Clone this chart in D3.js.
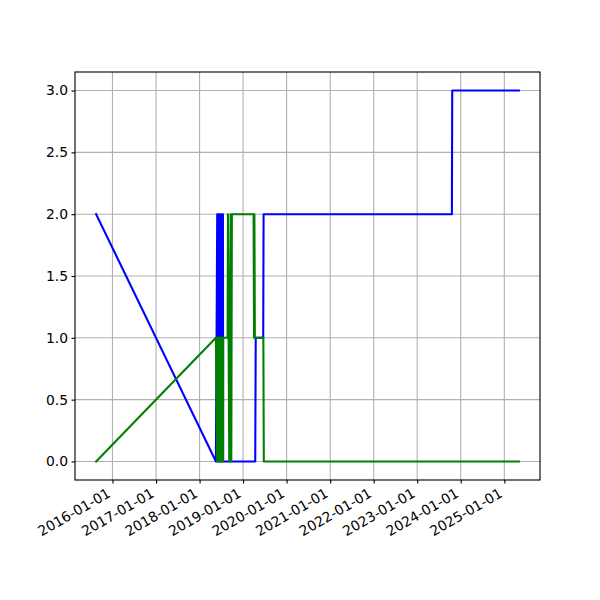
<!DOCTYPE html>
<html>
<head>
<meta charset="utf-8">
<script src="https://cdn.jsdelivr.net/npm/d3@7"></script>
<style>
  body { margin: 0; background: #fff; }
  svg { display: block; }
  text { font-family: "DejaVu Sans", sans-serif; }
</style>
</head>
<body>
<svg id="chart" width="600" height="600"></svg>
<script>
// ---- data ----
const blueDates = [
  "2015-08-17", "2018-05-18",
  "2018-05-29", "2018-06-02", "2018-06-06", "2018-06-10", "2018-06-14", "2018-06-18",
  "2018-06-22", "2018-06-26", "2018-06-30", "2018-07-04", "2018-07-08", "2018-07-12",
  "2018-07-16", "2018-07-18",
  "2019-04-13", "2019-04-17", "2019-06-19", "2019-06-22",
  "2023-10-19", "2023-10-22", "2025-05-03"
];
const blueValues = [
  2, 0,
  2, 0, 2, 0, 2, 0,
  2, 0, 2, 0, 2, 0,
  2, 0,
  0, 1, 1, 2,
  2, 3, 3
];
const greenDates = [
  "2015-08-17", "2018-05-18",
  "2018-05-29", "2018-06-02", "2018-06-06", "2018-06-10", "2018-06-14", "2018-06-18",
  "2018-06-22", "2018-06-26", "2018-06-30", "2018-07-04", "2018-07-08", "2018-07-12",
  "2018-07-16", "2018-07-18",
  "2018-08-24", "2018-08-27", "2018-09-07", "2018-09-19", "2018-09-24", "2018-09-29",
  "2019-03-30", "2019-04-03", "2019-04-06", "2019-04-10",
  "2019-06-20", "2019-06-24", "2025-05-03"
];
const greenValues = [
  0, 1,
  0, 1, 0, 1, 0, 1,
  0, 1, 0, 1, 0, 1,
  0, 1,
  1, 2, 0, 2, 0, 2,
  2, 1, 2, 1,
  1, 0, 0
];
const yTicks = [0, 0.5, 1, 1.5, 2, 2.5, 3];
const xTickYears = [2016, 2017, 2018, 2019, 2020, 2021, 2022, 2023, 2024, 2025];

// ---- layout ----
const W = 600, H = 600;
const mLeft = 75, mRight = 540, mTop = 72, mBottom = 480;
const fontSize = 13.9;
const tickLen = 3.5, tickPad = 3.5;
const thin = 1.11, lw = 2.08;

const parse = d3.utcParse("%Y-%m-%d");
const blue = blueDates.map((d, i) => ({ t: parse(d), v: blueValues[i] }));
const green = greenDates.map((d, i) => ({ t: parse(d), v: greenValues[i] }));

const all = blue.concat(green);
const tExt = d3.extent(all, d => +d.t);
const tPad = (tExt[1] - tExt[0]) * 0.05;
const vExt = d3.extent(all, d => d.v);
const vPad = (vExt[1] - vExt[0]) * 0.05;

const x = d3.scaleUtc().domain([new Date(tExt[0] - tPad), new Date(tExt[1] + tPad)]).range([mLeft, mRight]);
const y = d3.scaleLinear().domain([vExt[0] - vPad, vExt[1] + vPad]).range([mBottom, mTop]);

const svg = d3.select("#chart");
svg.append("rect").attr("width", W).attr("height", H).attr("fill", "#fff");

const xTicks = xTickYears.map(yr => new Date(Date.UTC(yr, 0, 1)));

// grid
const grid = svg.append("g");
grid.selectAll(".gx").data(xTicks).join("line")
  .attr("x1", d => x(d)).attr("x2", d => x(d))
  .attr("y1", mTop).attr("y2", mBottom)
  .attr("stroke", "#b0b0b0").attr("stroke-width", thin);
grid.selectAll(".gy").data(yTicks).join("line")
  .attr("x1", mLeft).attr("x2", mRight)
  .attr("y1", d => y(d)).attr("y2", d => y(d))
  .attr("stroke", "#b0b0b0").attr("stroke-width", thin);

// lines
const line = d3.line().x(d => x(d.t)).y(d => y(d.v));
svg.append("path").datum(blue).attr("d", line)
  .attr("fill", "none").attr("stroke", "#0000ff").attr("stroke-width", lw)
  .attr("stroke-linejoin", "round").attr("stroke-linecap", "square");
svg.append("path").datum(green).attr("d", line)
  .attr("fill", "none").attr("stroke", "#008000").attr("stroke-width", lw)
  .attr("stroke-linejoin", "round").attr("stroke-linecap", "square");

// frame
svg.append("rect").attr("x", mLeft).attr("y", mTop)
  .attr("width", mRight - mLeft).attr("height", mBottom - mTop)
  .attr("fill", "none").attr("stroke", "#000").attr("stroke-width", thin);

// y axis
const yAxis = d3.axisLeft(y).tickValues(yTicks).tickFormat(d3.format(".1f"))
  .tickSize(tickLen).tickPadding(tickPad);
const gy = svg.append("g").attr("transform", `translate(${mLeft},0)`).call(yAxis);
gy.select(".domain").remove();
gy.selectAll("line").attr("stroke", "#000").attr("stroke-width", thin);
gy.selectAll("text").attr("font-size", fontSize).attr("fill", "#000")
  .attr("font-family", "DejaVu Sans");

// x axis
const xAxis = d3.axisBottom(x).tickValues(xTicks).tickFormat(d3.utcFormat("%Y-%m-%d"))
  .tickSize(tickLen).tickPadding(tickPad);
const gx = svg.append("g").attr("transform", `translate(0,${mBottom})`).call(xAxis);
gx.select(".domain").remove();
gx.selectAll("line").attr("stroke", "#000").attr("stroke-width", thin);
const asc = fontSize * 0.76, desc = fontSize * 0.21;
gx.selectAll("text")
  .attr("font-size", fontSize).attr("fill", "#000").attr("font-family", "DejaVu Sans")
  .attr("text-anchor", "end")
  .attr("dy", null)
  .attr("y", 0)
  .attr("transform", `translate(${-0.5 * desc},${tickLen + tickPad + 0.866 * asc}) rotate(-30)`);
</script>
</body>
</html>
